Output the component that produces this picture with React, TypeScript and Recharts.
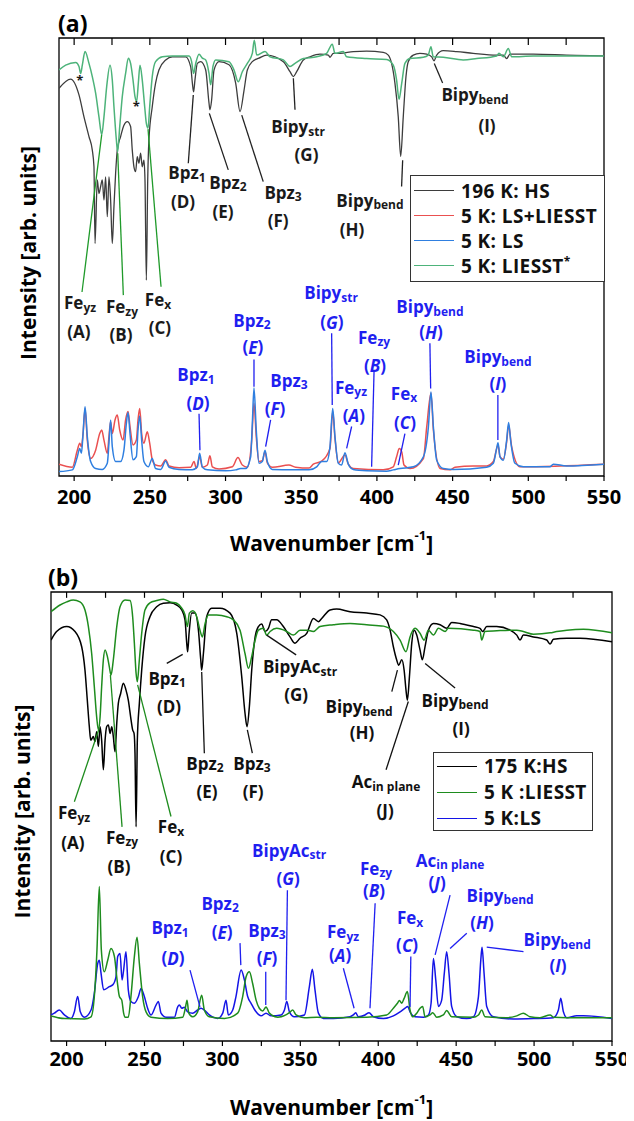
import React from 'react';
import { LineChart, Line, XAxis, YAxis, ReferenceLine, ReferenceDot, ReferenceArea, Legend } from 'recharts';

const FONT = '"Open Sans", "DejaVu Sans", sans-serif';

// ---------- Panel (a) data: [wavenumber, intensity] ----------
const hs196: number[][] = [
  [190, 88.5], [197.7, 90.6], [203.2, 87.0], [206.5, 82.0], [209.8, 77.5], [212.0, 74.4], [213.1, 70.6], [213.8, 53.1],
  [215.3, 67.6], [216.4, 64.5], [217.5, 66.1], [218.6, 67.6], [219.7, 63.0], [220.8, 68.3], [221.9, 59.2], [223.0, 68.3],
  [224.1, 63.0], [225.2, 53.1], [226.3, 61.5], [227.4, 69.1], [228.5, 74.4], [230.7, 77.5], [232.9, 80.1], [235.1, 80.9],
  [237.3, 79.8], [238.4, 74.4], [239.5, 70.6], [240.6, 69.5], [241.7, 72.9], [242.8, 71.4], [243.9, 73.7], [245.0, 70.6],
  [246.1, 72.1], [246.8, 67.6], [247.7, 44.7], [248.6, 67.6], [249.4, 76.7], [251.6, 84.3], [253.8, 89.7], [256.0, 92.7],
  [260.5, 95.0], [264.9, 95.7], [273.7, 95.7], [277.0, 93.4], [278.1, 89.7], [278.9, 87.7], [279.8, 90.4], [281.4, 94.2],
  [283.6, 94.6], [286.9, 92.7], [289.1, 85.1], [289.7, 83.6], [290.8, 85.8], [292.4, 92.7], [295.7, 94.6], [302.3, 93.9],
  [306.7, 89.7], [309.6, 83.2], [312.2, 88.0], [314.4, 92.7], [317.7, 94.6], [322.1, 95.4], [327.2, 96.1], [338.2, 94.6],
  [342.6, 92.3], [344.8, 91.2], [347.0, 92.3], [351.4, 95.0], [355.8, 95.7], [362.4, 96.3], [367.9, 96.1], [369.0, 95.6],
  [371.2, 96.5], [375.6, 96.5], [384.4, 96.9], [393.2, 97.0], [404.2, 96.7], [407.5, 96.1], [409.7, 94.2], [411.9, 89.7],
  [414.1, 82.0], [415.7, 73.0], [417.4, 82.0], [419.2, 91.2], [420.7, 94.6], [424.0, 96.1], [428.4, 96.5], [432.9, 96.3],
  [436.2, 95.7], [437.7, 94.8], [439.5, 96.1], [443.8, 97.1], [452.7, 96.9], [463.6, 96.5], [479.1, 96.1], [483.5, 96.1],
  [485.7, 95.3], [487.9, 96.3], [503.3, 96.3], [525.3, 96.1], [550, 95.9],
];
const liesstA: number[][] = [
  [190, 92.7], [194.4, 93.8], [201.0, 94.4], [203.2, 93.5], [204.3, 91.9], [205.4, 93.8], [207.2, 96.9], [209.8, 94.2],
  [212.0, 91.2], [214.2, 87.4], [216.4, 82.0], [218.2, 77.9], [219.7, 82.0], [221.5, 88.9], [223.7, 93.8], [225.2, 90.4],
  [226.3, 84.3], [227.9, 76.7], [228.7, 74.0], [230.1, 79.7], [231.8, 86.6], [234.0, 91.9], [235.8, 95.4], [237.3, 94.2],
  [238.9, 90.4], [240.2, 86.6], [241.3, 85.5], [242.4, 89.7], [243.5, 93.8], [245.0, 90.4], [246.6, 84.3], [247.7, 80.5],
  [248.8, 79.4], [249.9, 84.3], [251.6, 91.2], [253.8, 94.6], [258.3, 95.7], [264.9, 95.9], [275.9, 95.9], [277.6, 94.6],
  [278.9, 91.9], [280.3, 94.2], [282.5, 96.3], [284.7, 95.4], [286.9, 95.0], [289.1, 91.9], [290.2, 89.3], [291.7, 93.5],
  [293.5, 95.0], [302.3, 94.6], [305.6, 92.7], [308.4, 90.0], [311.1, 92.3], [314.4, 94.2], [317.7, 96.5], [319.0, 99.5],
  [320.6, 96.1], [326.1, 96.9], [329.4, 95.7], [338.2, 95.0], [342.6, 93.5], [345.9, 94.2], [351.4, 95.3], [360.2, 95.7],
  [366.8, 96.5], [370.5, 98.6], [372.3, 96.5], [377.8, 96.9], [380.0, 95.7], [393.2, 95.3], [406.4, 95.1], [410.8, 93.8],
  [413.0, 90.4], [414.6, 86.0], [416.4, 89.7], [418.5, 94.2], [421.8, 95.3], [430.6, 95.6], [433.9, 96.1], [435.7, 98.0],
  [437.2, 95.7], [443.8, 95.6], [457.0, 95.0], [465.9, 95.3], [479.1, 95.9], [480.6, 96.5], [483.5, 95.7], [486.8, 97.6],
  [489.0, 95.7], [503.3, 95.9], [550, 95.9],
];
const lsLiesstA: number[][] = [
  [190, 2.7], [198.8, 2.0], [202.1, 5.9], [203.7, 7.5], [204.8, 6.7], [205.9, 9.7], [207.2, 15.4], [208.7, 8.2], [210.9, 4.0],
  [214.2, 5.9], [216.9, 9.7], [218.2, 10.5], [219.7, 8.2], [221.9, 5.2], [223.0, 9.0], [224.1, 12.4], [225.2, 9.7], [227.0, 12.8],
  [228.5, 13.9], [230.1, 10.5], [232.3, 8.2], [234.0, 12.8], [235.6, 14.7], [236.9, 11.3], [238.9, 7.1], [241.1, 8.2],
  [242.2, 12.8], [243.3, 15.4], [244.6, 9.7], [246.1, 7.5], [248.3, 10.1], [249.9, 7.5], [251.6, 3.7], [253.8, 2.5],
  [257.2, 2.3], [260.5, 3.7], [262.7, 2.3], [269.3, 1.9], [277.0, 2.0], [279.2, 3.3], [280.7, 1.7], [282.9, 4.4], [284.7, 2.0],
  [288.0, 2.5], [289.7, 4.6], [291.3, 2.1], [295.7, 1.6], [304.5, 2.1], [308.2, 4.2], [311.1, 2.5], [314.4, 2.0], [317.3, 8.2],
  [318.8, 16.6], [320.3, 9.0], [322.1, 3.3], [324.3, 3.5], [326.1, 5.6], [327.6, 3.0], [330.9, 2.0], [341.9, 2.5], [346.3, 2.0],
  [355.1, 1.8], [358.0, 2.7], [363.5, 3.4], [369.0, 6.3], [370.8, 14.7], [372.3, 8.6], [374.5, 3.0], [378.9, 4.8], [381.1, 2.7],
  [384.4, 1.7], [404.2, 1.4], [410.8, 2.1], [413.0, 4.4], [414.8, 6.3], [416.4, 5.5], [417.9, 2.5], [421.9, 1.7], [430.7, 4.0],
  [432.9, 11.2], [435.7, 18.9], [437.3, 10.5], [441.7, 1.7], [448.3, 1.4], [451.6, 2.0], [463.7, 2.3], [472.5, 2.3],
  [476.9, 3.3], [480.0, 7.1], [481.3, 4.4], [483.5, 3.8], [485.7, 7.8], [487.0, 11.6], [489.0, 6.7], [494.5, 2.1], [550, 2.7],
];
const lsA: number[][] = [
  [190, 1.0], [198.8, 1.4], [202.1, 4.4], [203.7, 6.3], [204.8, 5.2], [205.9, 9.7], [207.2, 15.8], [208.7, 9.0], [210.9, 3.3],
  [214.2, 1.7], [218.6, 1.5], [221.9, 2.9], [223.0, 7.5], [224.1, 12.8], [225.2, 6.7], [227.4, 3.3], [230.7, 3.3], [232.9, 5.9],
  [234.5, 12.0], [235.6, 14.5], [236.9, 9.7], [238.9, 3.7], [241.1, 4.4], [242.2, 10.5], [243.3, 13.7], [244.6, 8.2],
  [246.1, 3.3], [249.0, 2.1], [251.6, 4.0], [253.8, 1.7], [257.2, 1.5], [260.5, 3.4], [262.7, 2.0], [269.3, 1.5], [278.1, 1.4],
  [281.4, 2.1], [282.9, 5.2], [284.7, 2.0], [288.0, 1.4], [300.1, 1.2], [306.7, 1.4], [310.0, 1.7], [313.3, 1.7], [316.6, 4.4],
  [317.7, 12.0], [318.8, 20.1], [320.3, 10.5], [322.1, 2.9], [324.3, 3.3], [326.1, 5.9], [327.6, 3.3], [330.9, 1.5],
  [344.1, 1.4], [355.1, 1.4], [360.2, 2.1], [363.5, 3.3], [366.8, 3.3], [369.0, 6.7], [370.8, 15.4], [372.3, 9.0], [374.5, 2.9],
  [376.7, 2.5], [378.9, 5.3], [381.1, 2.7], [384.4, 1.5], [393.2, 1.2], [406.4, 1.1], [410.8, 1.4], [415.2, 1.7], [424.1, 2.1],
  [430.7, 4.4], [434.0, 11.2], [435.7, 19.2], [437.3, 11.2], [439.5, 3.6], [443.9, 1.7], [450.5, 1.5], [472.5, 2.0],
  [476.9, 2.9], [479.1, 6.3], [480.0, 7.6], [481.3, 4.4], [483.5, 3.6], [485.7, 8.2], [487.0, 12.2], [488.3, 8.2], [491.2, 2.9],
  [496.7, 2.1], [514.3, 2.1], [516.5, 2.7], [525.3, 2.3], [550, 2.7],
];

// ---------- Panel (b) data ----------
const hs175: number[][] = [
  [190, 89.3], [193.6, 91.2], [200.1, 92.3], [205.4, 91.2], [209.7, 87.8], [211.8, 82.6], [213.3, 75.9], [214.6, 70.0],
  [215.5, 67.0], [217.2, 67.8], [218.2, 66.7], [219.3, 68.9], [220.4, 65.6], [221.5, 70.0], [222.5, 67.0], [223.6, 60.4],
  [224.7, 67.0], [225.7, 70.0], [226.8, 70.4], [227.9, 68.5], [229.0, 70.0], [230.0, 67.8], [231.1, 64.4], [232.2, 70.8],
  [233.2, 75.2], [234.7, 77.4], [236.4, 79.7], [238.1, 78.2], [239.6, 75.9], [241.1, 72.2], [242.4, 69.3], [243.3, 68.5],
  [243.9, 64.1], [244.6, 47.7], [245.4, 67.0], [246.7, 75.2], [248.2, 82.6], [250.3, 90.0], [253.5, 94.5], [257.8, 96.7],
  [262.1, 97.5], [266.4, 97.6], [270.7, 97.1], [273.9, 96.0], [276.0, 93.8], [277.1, 88.6], [277.7, 86.7], [278.6, 90.8],
  [280.3, 95.3], [282.4, 95.3], [284.6, 91.5], [286.1, 84.9], [286.7, 82.6], [287.8, 86.3], [289.9, 94.5], [293.1, 96.4],
  [298.5, 96.4], [304.9, 95.3], [309.2, 90.8], [312.4, 81.1], [314.5, 73.0], [315.8, 70.0], [317.3, 74.5], [318.8, 82.6],
  [321.0, 90.0], [323.1, 92.3], [325.2, 92.9], [327.4, 91.2], [329.5, 91.9], [331.6, 93.8], [334.8, 93.8], [339.1, 92.3],
  [343.4, 90.0], [346.6, 88.6], [349.8, 89.7], [354.1, 90.8], [358.4, 94.1], [361.6, 93.4], [363.7, 94.1], [369.1, 96.0],
  [373.3, 96.2], [381.9, 95.6], [392.6, 95.3], [401.2, 94.9], [405.4, 93.8], [407.6, 91.5], [409.7, 87.8], [411.8, 84.9],
  [413.1, 83.7], [415.1, 84.9], [416.6, 82.6], [417.8, 78.2], [418.7, 75.9], [420.0, 81.1], [421.5, 88.6], [423.0, 91.5],
  [424.7, 90.4], [426.8, 87.1], [428.3, 84.9], [430.0, 87.8], [432.2, 91.5], [435.4, 93.0], [439.7, 92.7], [443.9, 91.9],
  [447.1, 93.2], [452.5, 93.0], [461.1, 92.3], [465.3, 91.9], [467.0, 91.2], [469.6, 92.3], [476.0, 92.3], [484.6, 91.5],
  [488.9, 90.4], [491.0, 89.3], [493.1, 90.4], [499.6, 90.0], [508.1, 89.3], [510.3, 88.4], [512.4, 89.5], [521.0, 89.7],
  [529.5, 89.7], [550, 88.9],
];
const liesstB: number[][] = [
  [190, 95.6], [195.8, 97.1], [200.1, 97.8], [204.3, 98.2], [208.6, 97.8], [211.8, 96.0], [214.0, 92.3], [216.1, 86.3],
  [217.8, 78.9], [219.3, 72.2], [220.4, 69.3], [221.5, 72.2], [222.5, 78.9], [223.6, 84.9], [224.7, 87.1], [226.2, 85.6],
  [227.4, 83.4], [228.5, 81.5], [230.0, 84.9], [232.2, 92.3], [234.3, 96.7], [237.5, 98.2], [240.7, 98.1], [242.4, 94.5],
  [243.5, 88.6], [244.6, 81.9], [245.4, 80.0], [246.7, 84.9], [248.2, 90.8], [250.3, 96.0], [253.5, 97.6], [257.8, 98.1],
  [262.1, 98.4], [266.4, 97.8], [270.7, 97.5], [273.9, 96.4], [276.0, 94.9], [277.5, 92.3], [278.8, 95.3], [281.0, 95.8],
  [283.5, 94.5], [285.6, 91.5], [287.1, 90.0], [288.9, 93.0], [291.0, 94.9], [296.3, 94.9], [302.8, 94.5], [307.0, 93.8],
  [311.3, 91.5], [314.5, 86.3], [316.7, 83.0], [318.8, 85.6], [321.0, 89.3], [323.1, 91.5], [326.3, 91.9], [328.4, 90.4],
  [330.6, 91.2], [334.8, 91.9], [341.3, 91.2], [345.5, 90.4], [349.8, 91.5], [354.1, 91.5], [358.4, 91.2], [362.6, 92.3],
  [371.2, 92.7], [381.9, 93.0], [392.6, 92.7], [403.3, 92.4], [409.7, 91.2], [414.0, 89.3], [417.8, 86.7], [420.4, 90.0],
  [423.6, 91.9], [426.8, 90.8], [429.4, 89.3], [432.2, 91.5], [435.4, 90.4], [438.6, 91.9], [442.9, 91.2], [445.0, 91.9],
  [461.1, 91.5], [465.3, 91.2], [466.4, 89.3], [468.5, 91.2], [478.2, 91.4], [488.9, 91.5], [493.1, 91.2], [499.6, 90.6],
  [510.3, 90.9], [514.5, 91.2], [521.0, 91.5], [531.7, 91.7], [550, 90.9],
];
const lsB: number[][] = [
  [190, 5.8], [192.1, 6.2], [195.3, 6.9], [198.6, 5.8], [202.8, 5.0], [205.0, 6.5], [207.1, 9.9], [208.8, 6.5], [211.4, 5.3],
  [215.7, 6.9], [217.8, 10.6], [220.0, 17.3], [221.0, 18.0], [222.1, 15.1], [223.8, 11.4], [227.4, 12.1], [229.6, 12.5],
  [231.7, 14.3], [232.8, 18.8], [234.3, 19.5], [235.6, 13.6], [236.6, 15.8], [238.1, 19.9], [239.6, 11.4], [241.3, 8.8],
  [243.5, 8.4], [246.1, 9.9], [247.8, 11.7], [249.9, 9.9], [252.0, 7.3], [254.2, 5.8], [257.4, 8.0], [258.9, 8.8], [260.6, 6.2],
  [263.8, 5.3], [269.2, 5.3], [271.3, 7.6], [272.4, 8.0], [273.9, 7.3], [275.6, 7.5], [277.7, 6.5], [280.9, 6.2], [284.1, 6.9],
  [286.3, 7.3], [288.4, 6.9], [291.6, 5.8], [297.0, 5.0], [300.2, 6.2], [302.3, 9.1], [303.8, 5.8], [306.6, 6.9], [308.7, 9.9],
  [312.0, 15.8], [314.1, 13.6], [316.2, 9.9], [318.4, 8.4], [321.6, 6.5], [324.8, 5.6], [328.0, 6.2], [331.2, 5.6], [337.6, 5.8],
  [339.8, 6.9], [341.3, 8.8], [343.0, 6.5], [346.2, 5.4], [352.6, 5.8], [355.8, 12.1], [357.7, 16.0], [359.4, 11.4],
  [361.6, 6.2], [364.8, 5.0], [371.2, 5.0], [381.9, 5.4], [384.0, 5.8], [385.5, 6.3], [387.2, 5.4], [391.5, 5.8], [394.1, 6.3],
  [396.9, 5.4], [403.3, 5.0], [409.7, 5.6], [414.0, 6.5], [417.2, 7.3], [418.9, 7.7], [420.4, 6.5], [423.6, 5.4], [429.0, 5.3],
  [432.2, 5.8], [433.9, 8.4], [435.4, 18.4], [436.9, 13.6], [438.6, 7.7], [440.7, 9.1], [442.4, 15.1], [443.9, 19.9],
  [445.4, 15.1], [447.1, 7.7], [450.4, 5.4], [456.8, 5.0], [461.1, 5.4], [464.3, 9.9], [465.8, 18.0], [466.6, 20.9],
  [467.9, 15.1], [469.6, 7.7], [473.9, 5.4], [486.7, 4.9], [499.6, 5.0], [512.4, 5.2], [515.6, 6.9], [517.1, 9.5], [518.8, 6.5],
  [521.0, 5.2], [527.4, 5.6], [531.7, 5.6], [550, 5.0],
];
const liesstRamanB: number[][] = [
  [190, 5.6], [198.6, 5.0], [211.4, 4.9], [215.7, 5.4], [217.8, 9.9], [219.5, 20.3], [221.0, 34.4], [222.3, 20.3],
  [224.2, 15.4], [226.4, 18.0], [228.5, 20.6], [230.7, 18.8], [232.4, 13.6], [233.9, 9.9], [235.4, 9.1], [236.6, 6.2],
  [237.5, 5.3], [239.6, 5.3], [241.3, 9.9], [243.5, 18.8], [245.2, 23.1], [246.7, 17.3], [248.8, 9.9], [251.0, 6.5],
  [254.2, 5.3], [264.9, 5.0], [274.5, 5.3], [276.2, 7.3], [277.3, 9.1], [278.4, 6.2], [280.9, 5.4], [284.1, 6.5], [286.7, 10.2],
  [288.4, 6.9], [291.6, 5.4], [301.3, 5.0], [309.8, 6.2], [313.0, 9.9], [315.2, 14.3], [317.3, 15.4], [319.4, 12.8],
  [321.6, 9.1], [323.7, 7.3], [325.9, 6.7], [328.0, 7.6], [330.1, 6.2], [335.5, 5.3], [343.0, 6.3], [345.1, 6.9], [347.3, 5.8],
  [352.6, 5.2], [360.5, 5.3], [371.2, 5.2], [392.6, 5.3], [405.4, 5.8], [409.7, 7.3], [412.3, 8.4], [413.6, 9.0], [415.1, 8.4],
  [416.6, 9.5], [418.7, 11.0], [420.4, 6.9], [422.1, 5.4], [424.7, 6.2], [426.8, 7.3], [428.5, 7.7], [430.0, 5.4], [433.2, 5.8],
  [435.0, 6.3], [437.5, 5.3], [441.8, 5.8], [443.9, 6.8], [447.1, 5.4], [461.1, 5.3], [464.3, 5.8], [466.4, 6.9], [468.5, 5.4],
  [482.4, 5.2], [488.9, 5.6], [493.1, 6.2], [497.4, 5.4], [503.8, 5.2], [510.3, 5.8], [512.4, 5.3], [521.0, 5.2], [550, 5.2],
];

// ---------- axes ----------
const xTicks = [200, 225, 250, 275, 300, 325, 350, 375, 400, 425, 450, 475, 500, 525, 550];
const topTicks = [200, 225, 250, 275, 300, 325, 350, 375, 400, 425, 450, 475, 500, 525];

// ---------- annotations ----------
type Lbl = { x: number; y: number; t?: string; s?: string; L?: string };
type Seg = number[][];

const blackLabelsA: Lbl[] = [
  { x: 203.9, y: 39.5, t: 'Fe', s: 'yz' }, { x: 203.2, y: 32.9, t: '(A)' },
  { x: 231.6, y: 38.6, t: 'Fe', s: 'zy' }, { x: 231.0, y: 32.2, t: '(B)' },
  { x: 255.4, y: 40.2, t: 'Fe', s: 'x' }, { x: 256.7, y: 33.8, t: '(C)' },
  { x: 274.5, y: 69.2, t: 'Bpz', s: '1' }, { x: 271.9, y: 62.6, t: '(D)' },
  { x: 301.6, y: 67.1, t: 'Bpz', s: '2' }, { x: 298.3, y: 60.3, t: '(E)' },
  { x: 338.0, y: 64.8, t: 'Bpz', s: '3' }, { x: 334.7, y: 58.4, t: '(F)' },
  { x: 347.9, y: 79.7, t: 'Bipy', s: 'str' }, { x: 353.5, y: 73.3, t: '(G)' },
  { x: 395.4, y: 63.0, t: 'Bipy', s: 'bend' }, { x: 383.5, y: 56.2, t: '(H)' },
  { x: 464.8, y: 87.0, t: 'Bipy', s: 'bend' }, { x: 472.7, y: 80.1, t: '(I)' },
];
const starsA: Lbl[] = [{ x: 203.7, y: 90.4, t: '*' }, { x: 241.1, y: 84.5, t: '*' }];
const blueLabelsA: Lbl[] = [
  { x: 280.5, y: 23.1, t: 'Bpz', s: '1' }, { x: 281.8, y: 16.7, L: 'D' },
  { x: 317.5, y: 35.6, t: 'Bpz', s: '2' }, { x: 318.1, y: 29.5, L: 'E' },
  { x: 341.9, y: 21.9, t: 'Bpz', s: '3' }, { x: 332.7, y: 15.5, L: 'F' },
  { x: 369.7, y: 41.8, t: 'Bipy', s: 'str' }, { x: 370.3, y: 35.2, L: 'G' },
  { x: 382.9, y: 20.3, t: 'Fe', s: 'yz' }, { x: 384.8, y: 13.9, L: 'A' },
  { x: 398.1, y: 31.7, t: 'Fe', s: 'zy' }, { x: 398.7, y: 25.3, L: 'B' },
  { x: 417.9, y: 18.9, t: 'Fe', s: 'x' }, { x: 418.5, y: 12.3, L: 'C' },
  { x: 435.0, y: 38.6, t: 'Bipy', s: 'bend' }, { x: 435.7, y: 32.9, L: 'H' },
  { x: 479.9, y: 27.2, t: 'Bipy', s: 'bend' }, { x: 479.9, y: 21.2, L: 'I' },
];
const greenLeadersA: Seg[] = [
  [[205.2, 42.0], [218.2, 77.9]], [[232.5, 41.3], [228.8, 73.7]], [[257.4, 43.2], [248.8, 79.2]],
];
const blackLeadersA: Seg[] = [
  [[275.4, 71.4], [278.7, 87.0]], [[301.8, 69.9], [289.3, 82.8]], [[324.9, 67.2], [310.7, 82.4]],
  [[345.9, 83.6], [344.8, 90.8]], [[416.3, 66.1], [417.0, 72.1]], [[443.4, 89.7], [437.9, 94.2]],
];
const blueLeadersA: Seg[] = [
  [[282.5, 14.2], [283.1, 5.9]], [[318.8, 26.6], [318.8, 20.4]], [[329.8, 12.8], [326.5, 6.7]],
  [[370.1, 32.6], [370.5, 16.2]], [[383.3, 11.3], [380.0, 6.3]], [[398.1, 23.8], [396.5, 2.1]],
  [[418.5, 9.7], [414.1, 2.5]], [[435.0, 30.3], [435.5, 20.0]], [[479.9, 18.5], [479.9, 8.2]],
];

const blackLabelsB: Lbl[] = [
  { x: 204.8, y: 50.8, t: 'Fe', s: 'yz' }, { x: 204.1, y: 44.1, t: '(A)' },
  { x: 235.6, y: 45.4, t: 'Fe', s: 'zy' }, { x: 233.6, y: 38.8, t: '(B)' },
  { x: 267.0, y: 47.7, t: 'Fe', s: 'x' }, { x: 267.0, y: 41.0, t: '(C)' },
  { x: 264.5, y: 80.8, t: 'Bpz', s: '1' }, { x: 265.7, y: 74.4, t: '(D)' },
  { x: 288.8, y: 61.9, t: 'Bpz', s: '2' }, { x: 290.1, y: 55.5, t: '(E)' },
  { x: 319.0, y: 61.9, t: 'Bpz', s: '3' }, { x: 319.7, y: 55.5, t: '(F)' },
  { x: 349.8, y: 83.3, t: 'BipyAc', s: 'str' }, { x: 347.3, y: 77.1, t: '(G)' },
  { x: 387.7, y: 74.4, t: 'Bipy', s: 'bend' }, { x: 389.6, y: 68.8, t: '(H)' },
  { x: 449.3, y: 75.9, t: 'Bipy', s: 'bend' }, { x: 453.2, y: 69.7, t: '(I)' },
  { x: 405.0, y: 57.7, t: 'Ac', s: 'in plane' }, { x: 404.4, y: 51.4, t: '(J)' },
];
const blueLabelsB: Lbl[] = [
  { x: 266.4, y: 25.2, t: 'Bpz', s: '1' }, { x: 268.3, y: 18.5, L: 'D' },
  { x: 298.5, y: 30.7, t: 'Bpz', s: '2' }, { x: 299.8, y: 24.3, L: 'E' },
  { x: 328.6, y: 24.7, t: 'Bpz', s: '3' }, { x: 328.6, y: 18.5, L: 'F' },
  { x: 342.8, y: 42.5, t: 'BipyAc', s: 'str' }, { x: 342.1, y: 36.3, L: 'G' },
  { x: 377.4, y: 24.3, t: 'Fe', s: 'yz' }, { x: 375.5, y: 19.2, L: 'A' },
  { x: 398.6, y: 38.5, t: 'Fe', s: 'zy' }, { x: 397.3, y: 33.6, L: 'B' },
  { x: 420.4, y: 27.4, t: 'Fe', s: 'x' }, { x: 418.5, y: 21.4, L: 'C' },
  { x: 446.1, y: 40.3, t: 'Ac', s: 'in plane' }, { x: 437.8, y: 35.2, L: 'J' },
  { x: 478.2, y: 32.5, t: 'Bipy', s: 'bend' }, { x: 466.6, y: 26.5, L: 'H' },
  { x: 514.8, y: 22.5, t: 'Bipy', s: 'bend' }, { x: 515.4, y: 16.9, L: 'I' },
];
const greenLeadersB: Seg[] = [
  [[205.0, 53.3], [220.8, 69.5]], [[235.6, 47.7], [228.1, 81.5]], [[267.0, 50.0], [245.6, 79.3]],
];
const blackLeadersB: Seg[] = [
  [[264.3, 84.1], [274.5, 86.1]], [[288.4, 64.1], [286.7, 82.2]], [[319.2, 64.1], [316.0, 69.3]],
  [[347.3, 86.0], [328.4, 90.4]], [[408.7, 77.8], [412.3, 82.6]], [[449.3, 78.6], [430.1, 84.1]],
  [[405.0, 60.4], [419.3, 75.6]],
];
const blueLeadersB: Seg[] = [
  [[279.2, 15.8], [285.6, 7.6]], [[311.3, 21.8], [311.8, 16.9]], [[327.8, 15.4], [327.8, 8.0]],
  [[341.7, 33.6], [340.8, 9.1]], [[377.6, 16.2], [384.5, 7.3]], [[398.0, 30.7], [394.7, 7.3]],
  [[420.9, 18.8], [420.4, 7.6]], [[446.1, 32.5], [436.5, 19.2]], [[456.8, 24.0], [446.1, 20.6]],
  [[493.2, 19.9], [469.6, 20.9]],
];

const legendA = [
  { name: '196 K: HS', color: '#3d3d3d' },
  { name: '5 K: LS+LIESST', color: '#ea5050' },
  { name: '5 K: LS', color: '#2f7fe0' },
  { name: '5 K: LIESST', sup: '*', color: '#4db37a' },
];
const legendB = [
  { name: '175 K:HS', color: '#000000' },
  { name: '5 K :LIESST', color: '#1e8c1e' },
  { name: '5 K:LS', color: '#1414e6' },
];

const BLUE_TXT = '#1f1ff0';
const toPts = (a: number[][]) => a.map(([x, y]) => ({ x, y }));

const labelShape = (lb: Lbl, color: string, size = 17) => (p: any) => (
  <text x={p.cx} y={p.cy} textAnchor="middle" dominantBaseline="central" fill={color}
    fontFamily={FONT} fontWeight={700} fontSize={size}>
    {lb.L ? (<>(<tspan fontStyle="italic">{lb.L}</tspan>)</>) : lb.t}
    {lb.s ? <tspan dy={4} fontSize={12}>{lb.s}</tspan> : null}
  </text>
);

const renderLabels = (arr: Lbl[], color: string, prefix: string, size = 17) =>
  arr.map((lb, i) => (
    <ReferenceDot key={prefix + i} x={lb.x} y={lb.y} r={0} ifOverflow="visible" shape={labelShape(lb, color, size)} />
  ));

const renderSegs = (arr: Seg[], color: string, prefix: string) =>
  arr.map((s, i) => (
    <ReferenceLine key={prefix + i} segment={[{ x: s[0][0], y: s[0][1] }, { x: s[1][0], y: s[1][1] }]}
      stroke={color} strokeWidth={1.3} ifOverflow="visible" />
  ));

const renderTopTicks = (len: number, prefix: string) =>
  topTicks.map((t) => (
    <ReferenceLine key={prefix + t} segment={[{ x: t, y: 100 }, { x: t, y: 100 - len }]} stroke="#000" strokeWidth={1.2} ifOverflow="visible" />
  ));

const makeXTitle = (dy: number) => (props: any) => {
  const vb = props.viewBox || { x: 0, y: 0, width: 0 };
  const cx = vb.x + vb.width / 2;
  const cy = vb.y + dy;
  return (
    <text x={cx} y={cy} textAnchor="middle" dominantBaseline="central" fontFamily={FONT} fontWeight={700} fontSize={21} fill="#000">
      Wavenumber [cm<tspan dy={-8} fontSize={13}>-1</tspan><tspan dy={8}>]</tspan>
    </text>
  );
};
const makeYTitle = (xOff: number, yShift: number) => (props: any) => {
  const vb = props.viewBox || { x: 0, y: 0, height: 0 };
  const cx = vb.x + xOff;
  const cy = vb.y + vb.height / 2 + yShift;
  return (
    <text x={cx} y={cy} transform={`rotate(-90 ${cx} ${cy})`} textAnchor="middle" dominantBaseline="central"
      fontFamily={FONT} fontWeight={700} fontSize={21} fill="#000">
      Intensity [arb. units]
    </text>
  );
};

const makeLegend = (items: any[], w: number, h: number, rowH: number, padTop: number) => () => (
  <div style={{ width: w, height: h, boxSizing: 'border-box', border: '1.3px solid #333', background: '#fff',
    paddingTop: padTop, fontFamily: FONT, fontWeight: 700, fontSize: 19, letterSpacing: 0.4, color: '#111' }}>
    {items.map((it) => (
      <div key={it.name} style={{ display: 'flex', alignItems: 'center', height: rowH, whiteSpace: 'pre' }}>
        <span style={{ display: 'inline-block', width: 40, height: 0, borderTop: `1.6px solid ${it.color}`, marginLeft: 3, marginRight: 7 }} />
        <span>{it.name}{it.sup ? <sup style={{ fontSize: 12, lineHeight: 0 }}>{it.sup}</sup> : null}</span>
      </div>
    ))}
  </div>
);

const tickStyle = { fill: '#000', fontSize: 20, fontWeight: 700, fontFamily: FONT };
const fmt = (v: number) => (v % 50 === 0 ? String(v) : '');

function PanelA() {
  return (
    <div style={{ position: 'relative', width: 626, height: 555 }}>
      <LineChart width={626} height={555} margin={{ top: 30, right: 30, bottom: 27, left: 0 }}>
        <XAxis dataKey="x" type="number" domain={[190, 550]} ticks={xTicks} interval={0} tickFormatter={fmt}
          allowDataOverflow axisLine={false} tickLine={{ stroke: '#000', strokeWidth: 1.2 }} tickSize={5} tickMargin={9}
          height={60} tick={tickStyle} label={{ content: makeXTitle(67) } as any} />
        <YAxis type="number" domain={[0, 100]} allowDataOverflow width={51} tick={false} tickLine={false} axisLine={false}
          label={{ content: makeYTitle(20, -4) } as any} />
        <Line data={toPts(hs196)} dataKey="y" name="196 K: HS" stroke="#3d3d3d" strokeWidth={1.3} dot={false} type="monotone" isAnimationActive={false} />
        <Line data={toPts(lsLiesstA)} dataKey="y" name="5 K: LS+LIESST" stroke="#ea5050" strokeWidth={1.5} dot={false} type="monotone" isAnimationActive={false} />
        <Line data={toPts(lsA)} dataKey="y" name="5 K: LS" stroke="#2f7fe0" strokeWidth={1.5} dot={false} type="monotone" isAnimationActive={false} />
        <Line data={toPts(liesstA)} dataKey="y" name="5 K: LIESST*" stroke="#4db37a" strokeWidth={1.5} dot={false} type="monotone" isAnimationActive={false} />
        <ReferenceArea x1={190} x2={550} y1={0} y2={100} fill="none" fillOpacity={0} stroke="#000" strokeWidth={1.3} ifOverflow="visible" />
        {renderTopTicks(1.6, 'ta')}
        {renderSegs(greenLeadersA, '#1f9a2a', 'ga')}
        {renderSegs(blackLeadersA, '#222', 'ba')}
        {renderSegs(blueLeadersA, BLUE_TXT, 'la')}
        {renderLabels(blackLabelsA, '#1a1a1a', 'bl')}
        {renderLabels(starsA, '#1a1a1a', 'st', 13)}
        {renderLabels(blueLabelsA, BLUE_TXT, 'bu')}
        <Legend layout="vertical" align="center" verticalAlign="middle" content={makeLegend(legendA, 195, 107, 25, 2)}
          wrapperStyle={{ position: 'absolute', left: 402, top: 167, width: 195, height: 107 }} />
      </LineChart>
      <div style={{ position: 'absolute', left: 50, top: 0, fontFamily: FONT, fontWeight: 700, fontSize: 23, lineHeight: '30px' }}>(a)</div>
    </div>
  );
}

function PanelB() {
  return (
    <div style={{ position: 'relative', width: 626, height: 558 }}>
      <LineChart width={626} height={558} margin={{ top: 29, right: 22, bottom: 20, left: 0 }}>
        <XAxis dataKey="x" type="number" domain={[190, 550]} ticks={xTicks} interval={0} tickFormatter={fmt}
          allowDataOverflow axisLine={false} tickLine={{ stroke: '#000', strokeWidth: 1.2 }} tickSize={5} tickMargin={6}
          height={60} tick={tickStyle} label={{ content: makeXTitle(66) } as any} />
        <YAxis type="number" domain={[0, 100]} allowDataOverflow width={43} tick={false} tickLine={false} axisLine={false}
          label={{ content: makeYTitle(14, -5) } as any} />
        <Line data={toPts(hs175)} dataKey="y" name="175 K:HS" stroke="#000" strokeWidth={1.5} dot={false} type="monotone" isAnimationActive={false} />
        <Line data={toPts(liesstB)} dataKey="y" name="5 K :LIESST" stroke="#1e8c1e" strokeWidth={1.5} dot={false} type="monotone" isAnimationActive={false} />
        <Line data={toPts(lsB)} dataKey="y" name="5 K:LS" stroke="#1414e6" strokeWidth={1.5} dot={false} type="monotone" isAnimationActive={false} />
        <Line data={toPts(liesstRamanB)} dataKey="y" name="5 K :LIESST (Raman)" legendType="none" stroke="#1e8c1e" strokeWidth={1.5} dot={false} type="monotone" isAnimationActive={false} />
        <ReferenceArea x1={190} x2={550} y1={0} y2={100} fill="none" fillOpacity={0} stroke="#000" strokeWidth={1.3} ifOverflow="visible" />
        {renderTopTicks(1.3, 'tb')}
        {renderSegs(greenLeadersB, '#1e8c1e', 'gb')}
        {renderSegs(blackLeadersB, '#111', 'bb')}
        {renderSegs(blueLeadersB, BLUE_TXT, 'lb')}
        {renderLabels(blackLabelsB, '#111', 'klb')}
        {renderLabels(blueLabelsB, BLUE_TXT, 'kub')}
        <Legend layout="vertical" align="center" verticalAlign="middle" content={makeLegend(legendB, 160, 79, 26, 0)}
          wrapperStyle={{ position: 'absolute', left: 425, top: 189, width: 160, height: 79 }} />
      </LineChart>
      <div style={{ position: 'absolute', left: 40, top: 0, fontFamily: FONT, fontWeight: 700, fontSize: 23, lineHeight: '28px' }}>(b)</div>
    </div>
  );
}

export default function App() {
  return (
    <div style={{ width: 626 }}>
      <PanelA />
      <PanelB />
    </div>
  );
}
